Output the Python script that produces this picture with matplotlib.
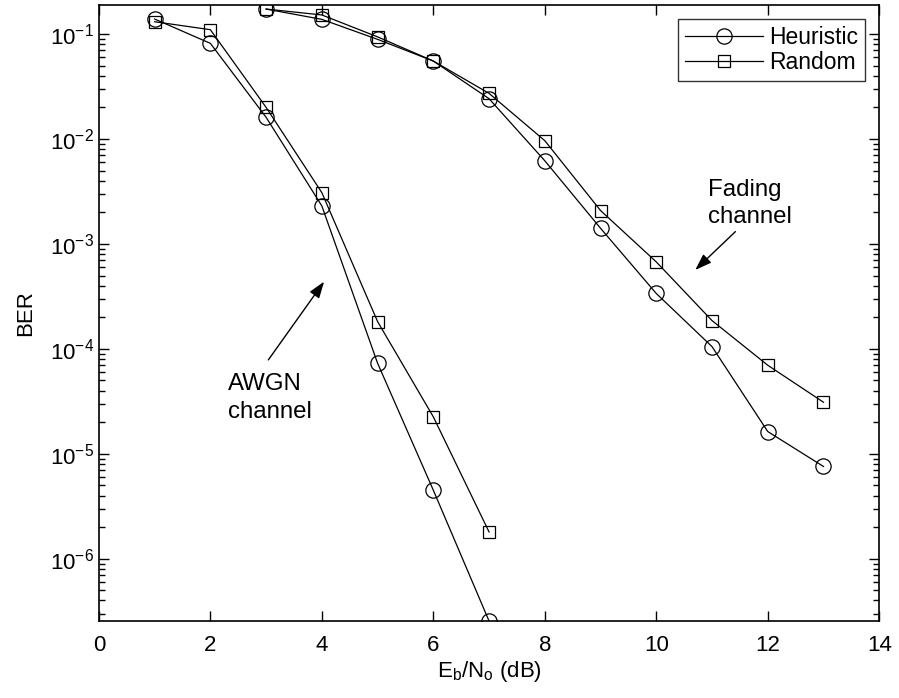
import matplotlib
matplotlib.use("Agg")
import matplotlib.pyplot as plt
from matplotlib.ticker import LogLocator, FixedLocator

plt.rcParams["font.family"] = ["Liberation Sans", "DejaVu Sans"]
plt.rcParams["mathtext.fontset"] = "custom"
plt.rcParams["mathtext.rm"] = "Liberation Sans"
plt.rcParams["mathtext.it"] = "Liberation Sans:italic"
plt.rcParams["mathtext.bf"] = "Liberation Sans:bold"

# AWGN channel, Eb/No = 1..7 dB
awgn_ebno = [1, 2, 3, 4, 5, 6, 7]
awgn_heuristic = [0.139, 0.0815, 0.0161, 0.0023, 7.3e-5, 4.5e-6, 2.55e-7]
awgn_random = [0.131, 0.110, 0.020, 0.00308, 1.82e-4, 2.25e-5, 1.8e-6]

# Fading channel, Eb/No = 3..13 dB
fading_ebno = [3, 4, 5, 6, 7, 8, 9, 10, 11, 12, 13]
fading_heuristic = [0.173, 0.138, 0.089, 0.0553, 0.0242, 0.0062, 0.00141,
                    3.37e-4, 1.05e-4, 1.63e-5, 7.57e-6]
fading_random = [0.173, 0.152, 0.094, 0.0553, 0.0272, 0.00964, 0.00208,
                 6.74e-4, 1.86e-4, 6.98e-5, 3.1e-5]

x_ticks = [0, 2, 4, 6, 8, 10, 12, 14]
y_ticks = [1e-6, 1e-5, 1e-4, 1e-3, 1e-2, 1e-1]

fig = plt.figure(figsize=(8.99, 6.98), dpi=100)
ax = fig.add_axes([0.110, 0.1103, 0.868, 0.8825])

line_kw = dict(color="black", linewidth=0.9, markerfacecolor="none",
               markeredgewidth=0.9)
ax.semilogy(awgn_ebno, awgn_heuristic, marker="o", markersize=11,
            label="Heuristic", **line_kw)
ax.semilogy(awgn_ebno, awgn_random, marker="s", markersize=9,
            label="Random", **line_kw)
ax.semilogy(fading_ebno, fading_heuristic, marker="o", markersize=11, **line_kw)
ax.semilogy(fading_ebno, fading_random, marker="s", markersize=9, **line_kw)

ax.set_xlim(0, 14)
ax.set_ylim(2.55e-7, 0.189)
ax.xaxis.set_major_locator(FixedLocator(x_ticks))
ax.yaxis.set_major_locator(FixedLocator(y_ticks))
ax.yaxis.set_minor_locator(LogLocator(base=10, subs=range(2, 10), numticks=20))

ax.tick_params(which="both", direction="in", top=True, right=True,
               labelsize=16, width=1.0)
ax.tick_params(which="major", length=7)
ax.tick_params(which="minor", length=4)
ax.tick_params(axis="x", pad=10)
for sp in ax.spines.values():
    sp.set_linewidth(1.2)

ax.set_xlabel(r"E$_\mathrm{b}$/N$_\mathrm{o}$ (dB)", fontsize=16, labelpad=2)
ax.set_ylabel("BER", fontsize=16, labelpad=10)

leg = ax.legend(loc="upper right", fontsize=16.5, frameon=True, fancybox=False,
                edgecolor="black", handlelength=3.4, borderpad=0.3,
                labelspacing=0.12, handletextpad=0.3, borderaxespad=0.6)
leg.get_frame().set_linewidth(1.0)

arrow = dict(arrowstyle="-|>,head_length=1.0,head_width=0.35", color="black",
             linewidth=1.0, shrinkA=0, shrinkB=0)
ax.annotate("", xy=(4.04, 4.37e-4), xytext=(3.04, 7.85e-5), arrowprops=arrow)
ax.text(2.32, 5.9e-5, "AWGN\nchannel", fontsize=17.3, ha="left", va="top",
        linespacing=1.35)

ax.annotate("", xy=(10.70, 5.65e-4), xytext=(11.42, 1.31e-3), arrowprops=arrow)
ax.text(10.92, 4.2e-3, "Fading\nchannel", fontsize=17.3, ha="left", va="top",
        linespacing=1.35)

fig.savefig("out.png", dpi=100)
